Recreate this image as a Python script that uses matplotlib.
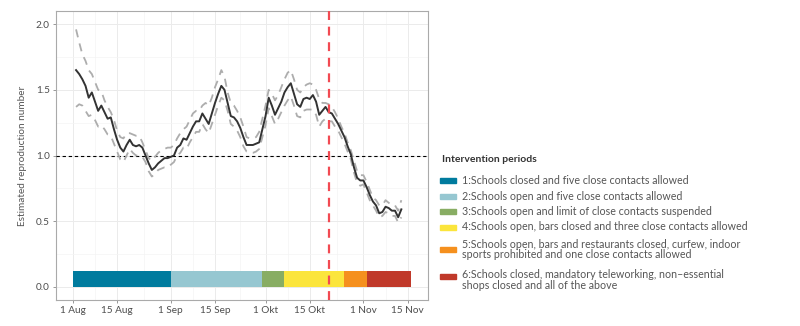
import matplotlib
matplotlib.use("Agg")
import matplotlib.pyplot as plt
import matplotlib.dates as mdates
from matplotlib.patches import Rectangle
import numpy as np
import datetime as dt

plt.rcParams['font.family'] = ['Lato', 'DejaVu Sans']

start = dt.date(2020, 8, 2)
rt_mid = [1.65, 1.62, 1.58, 1.53, 1.44, 1.48, 1.41, 1.34, 1.38, 1.33,
          1.28, 1.29, 1.20, 1.12, 1.06, 1.03, 1.08, 1.12, 1.08, 1.07,
          1.08, 1.06, 1.00, 0.94, 0.89, 0.91, 0.94, 0.96, 0.98, 0.98,
          0.99, 1.00, 1.06, 1.08, 1.13, 1.12, 1.17, 1.22, 1.26, 1.26,
          1.32, 1.28, 1.24, 1.32, 1.40, 1.47, 1.53, 1.50, 1.40, 1.30,
          1.29, 1.26, 1.21, 1.14, 1.08, 1.08, 1.08, 1.09, 1.10, 1.20,
          1.30, 1.44, 1.38, 1.31, 1.36, 1.41, 1.48, 1.52, 1.55, 1.47,
          1.39, 1.37, 1.43, 1.44, 1.43, 1.46, 1.41, 1.31, 1.34, 1.37,
          1.33, 1.32, 1.28, 1.24, 1.19, 1.14, 1.07, 1.01, 0.91, 0.83,
          0.81, 0.81, 0.76, 0.70, 0.65, 0.62, 0.56, 0.57, 0.61, 0.60,
          0.58, 0.58, 0.53, 0.59]
rt_upper = [1.96, 1.86, 1.77, 1.72, 1.65, 1.62, 1.56, 1.50, 1.49, 1.42,
            1.37, 1.33, 1.27, 1.19, 1.14, 1.13, 1.17, 1.17, 1.16, 1.15,
            1.15, 1.10, 1.04, 0.98, 0.96, 0.99, 1.02, 1.04, 1.05, 1.06,
            1.06, 1.08, 1.13, 1.17, 1.20, 1.22, 1.27, 1.32, 1.34, 1.34,
            1.38, 1.40, 1.38, 1.44, 1.52, 1.58, 1.65, 1.60, 1.48, 1.40,
            1.38, 1.34, 1.29, 1.22, 1.14, 1.13, 1.13, 1.14, 1.18, 1.28,
            1.38, 1.50, 1.47, 1.42, 1.46, 1.52, 1.58, 1.63, 1.65, 1.58,
            1.50, 1.48, 1.52, 1.54, 1.55, 1.54, 1.50, 1.43, 1.40, 1.40,
            1.39, 1.37, 1.33, 1.28, 1.22, 1.17, 1.10, 1.04, 0.96, 0.88,
            0.85, 0.85, 0.80, 0.74, 0.68, 0.66, 0.62, 0.62, 0.66, 0.64,
            0.62, 0.62, 0.58, 0.66]
rt_lower = [1.37, 1.39, 1.38, 1.34, 1.30, 1.31, 1.27, 1.22, 1.23, 1.20,
            1.16, 1.15, 1.09, 1.03, 0.97, 0.95, 1.00, 1.05, 1.02, 1.00,
            1.00, 0.99, 0.95, 0.88, 0.84, 0.86, 0.89, 0.90, 0.91, 0.91,
            0.93, 0.95, 1.00, 1.02, 1.06, 1.05, 1.10, 1.14, 1.18, 1.18,
            1.24, 1.20, 1.17, 1.24, 1.31, 1.38, 1.44, 1.42, 1.34, 1.24,
            1.22, 1.19, 1.14, 1.07, 1.03, 1.02, 1.02, 1.03, 1.05, 1.14,
            1.23, 1.36, 1.30, 1.24, 1.28, 1.33, 1.38, 1.42, 1.45, 1.38,
            1.30, 1.29, 1.34, 1.35, 1.35, 1.35, 1.31, 1.22, 1.26, 1.28,
            1.26, 1.26, 1.22, 1.19, 1.14, 1.09, 1.03, 0.97, 0.87, 0.79,
            0.77, 0.78, 0.72, 0.66, 0.62, 0.58, 0.53, 0.54, 0.57, 0.56,
            0.54, 0.54, 0.49, 0.53]
dates = [start + dt.timedelta(days=i) for i in range(len(rt_mid))]

period_bounds = [dt.date(2020, 8, 1), dt.date(2020, 9, 1), dt.date(2020, 9, 30),
                 dt.date(2020, 10, 7), dt.date(2020, 10, 26), dt.date(2020, 11, 2),
                 dt.date(2020, 11, 16)]
period_colors = ['#007b9e', '#96c7d1', '#88ad63', '#fbe53c', '#f5901e', '#c0392a']
period_labels = [
    '1:Schools closed and five close contacts allowed',
    '2:Schools open and five close contacts allowed',
    '3:Schools open and limit of close contacts suspended',
    '4:Schools open, bars closed and three close contacts allowed',
    '5:Schools open, bars and restaurants closed, curfew, indoor\nsports prohibited and one close contacts allowed',
    '6:Schools closed, mandatory teleworking, non\u2013essential\nshops closed and all of the above',
]
bar_height = 0.12
event_date = dt.date(2020, 10, 21)

tick_dates = [dt.date(2020, 8, 1), dt.date(2020, 8, 15), dt.date(2020, 9, 1),
              dt.date(2020, 9, 15), dt.date(2020, 10, 1), dt.date(2020, 10, 15),
              dt.date(2020, 11, 1), dt.date(2020, 11, 15)]
tick_labels = ['1 Aug', '15 Aug', '1 Sep', '15 Sep', '1 Okt', '15 Okt', '1 Nov', '15 Nov']
y_ticks = [0.0, 0.5, 1.0, 1.5, 2.0]

W, H = 800, 326
fig = plt.figure(figsize=(8, 3.26), dpi=100)
ax = fig.add_axes([56 / W, 1 - 300 / H, (427.7 - 56) / W, (300 - 11) / H])

# bars
for i in range(len(period_colors)):
    s = mdates.date2num(period_bounds[i])
    e = mdates.date2num(period_bounds[i + 1])
    ax.bar(s, bar_height, width=e - s, bottom=0, align='edge',
           color=period_colors[i], linewidth=0, zorder=2)

ax.axhline(1.0, color='black', lw=0.8, ls=(0, (3, 2.5)), zorder=3)
ax.plot(dates, rt_upper, color='#adadad', lw=1.3, ls=(0, (4.5, 3.5)), zorder=3)
ax.plot(dates, rt_lower, color='#adadad', lw=1.3, ls=(0, (4.5, 3.5)), zorder=3)
ax.plot(dates, rt_mid, color='#333333', lw=1.4, zorder=4)
ax.axvline(event_date, color='#f24a52', lw=1.6, ls=(0, (4, 3)), zorder=5)

x0 = mdates.date2num(period_bounds[0])
x1 = mdates.date2num(period_bounds[-1])
pad = (x1 - x0) * 0.05
ax.set_xlim(x0 - pad, x1 + pad)
ax.set_ylim(-0.1, 2.1)

tick_nums = [mdates.date2num(d) for d in tick_dates]
ax.set_xticks(tick_nums)
ax.set_xticklabels(tick_labels)
minor_x = [(a + b) / 2 for a, b in zip(tick_nums[:-1], tick_nums[1:])]
ax.set_xticks(minor_x, minor=True)
ax.set_yticks(y_ticks)
ax.set_yticklabels([f'{v:.1f}' for v in y_ticks])
ax.set_yticks([0.25, 0.75, 1.25, 1.75], minor=True)

ax.grid(which='major', color='#ebebeb', lw=0.7, zorder=0)
ax.grid(which='minor', color='#f4f4f4', lw=0.5, zorder=0)
ax.set_axisbelow(True)
ax.tick_params(which='major', length=2.5, width=0.6, color='#888888',
               labelsize=7.2, labelcolor='#4d4d4d', pad=2)
ax.tick_params(which='minor', length=0)
for sp in ax.spines.values():
    sp.set_color('#aaaaaa')
    sp.set_linewidth(0.8)
ax.set_ylabel('Estimated reproduction number', fontsize=7.2, color='#555555', labelpad=6)

# legend
fig.text(441.5 / W, 1 - 159 / H, 'Intervention periods', fontsize=7.5,
         fontweight='bold', color='#333333', va='center', ha='left')
patch_y = [180.7, 196.2, 211.7, 227.5, 249.5, 276.5]
text_y = [180.5, 196, 211.5, 227, 249.5, 280]
for c, lab, py, ty in zip(period_colors, period_labels, patch_y, text_y):
    fig.patches.append(Rectangle((440 / W, 1 - (py + 2.5) / H), 16 / W, 5 / H,
                                 transform=fig.transFigure, color=c, figure=fig))
    fig.text(461.5 / W, 1 - ty / H, lab, fontsize=7.65, color='#555555',
             va='center', ha='left', linespacing=0.95)

fig.savefig('out.png', dpi=100)
